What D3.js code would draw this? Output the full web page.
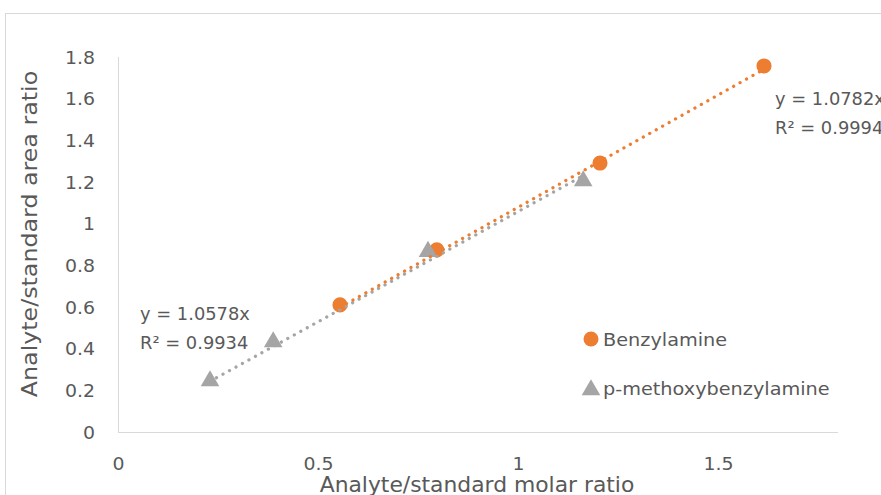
<!DOCTYPE html>
<html><head><meta charset="utf-8">
<script src="https://cdn.jsdelivr.net/npm/d3@7"></script>
<style>body{margin:0;background:#fff}svg{display:block}text{font-family:"DejaVu Sans",sans-serif;fill:#595959}</style>
</head><body>
<svg id="c" width="881" height="495"></svg>
<script>
const seriesNames = ["Benzylamine", "p-methoxybenzylamine"];
const benzX = [0.555, 0.797, 1.205, 1.615];
const benzY = [0.61, 0.874, 1.291, 1.757];
const methX = [0.23, 0.388, 0.775, 1.163];
const methY = [0.245, 0.432, 0.866, 1.205];
const slopes = [1.0782, 1.0578];
const r2 = ["0.9994", "0.9934"];
const xTicks = [0, 0.5, 1, 1.5];
const yTicks = [0, 0.2, 0.4, 0.6, 0.8, 1, 1.2, 1.4, 1.6, 1.8];
const xTitle = "Analyte/standard molar ratio";
const yTitle = "Analyte/standard area ratio";
const colors = ["#ED7D31", "#A5A5A5"];

const svg = d3.select("#c");
function stretch(sel, k){
  sel.each(function(){
    const w = this.getComputedTextLength();
    d3.select(this).attr("textLength", w*k).attr("lengthAdjust","spacingAndGlyphs");
  });
  return sel;
}
svg.append("rect").attr("x",5.5).attr("y",13.5).attr("width",900).attr("height",500)
  .attr("fill","none").attr("stroke","#d9d9d9");

const x = d3.scaleLinear().domain([0,1.8]).range([118,838]);
const y = d3.scaleLinear().domain([0,1.8]).range([432,57]);

svg.append("line").attr("x1",x(0)).attr("x2",x(1.8)).attr("y1",y(0)+0.5).attr("y2",y(0)+0.5).attr("stroke","#d9d9d9");
svg.append("line").attr("x1",x(0)+0.5).attr("x2",x(0)+0.5).attr("y1",y(1.8)).attr("y2",y(0)).attr("stroke","#d9d9d9");

const xa = d3.axisBottom(x).tickValues(xTicks).tickSize(0).tickPadding(0).tickFormat(d=>String(d));
const gx = svg.append("g").attr("transform",`translate(0,${y(0)})`).call(xa);
gx.select(".domain").remove();
gx.selectAll("text").attr("font-size",17.5).attr("y",38).attr("dy","0")
  .style("fill","#595959").attr("font-family","DejaVu Sans");
stretch(gx.selectAll("text"),1.08);

const ya = d3.axisLeft(y).tickValues(yTicks).tickSize(0).tickPadding(23).tickFormat(d=>String(d));
const gy = svg.append("g").attr("transform",`translate(${x(0)},0)`).call(ya);
gy.select(".domain").remove();
gy.selectAll("text").attr("font-size",17.5).attr("dy","0.36em")
  .style("fill","#595959").attr("font-family","DejaVu Sans");
stretch(gy.selectAll("text"),1.08);

stretch(svg.append("text").attr("x",477).attr("y",492).attr("text-anchor","middle").attr("font-size",20.5).text(xTitle),1.065);
stretch(svg.append("text").attr("transform","translate(37,234) rotate(-90)").attr("text-anchor","middle").attr("font-size",21).text(yTitle),1.13);

const data = [benzX.map((v,i)=>[v,benzY[i]]), methX.map((v,i)=>[v,methY[i]])];

const sym = [d3.symbolCircle, d3.symbolTriangle];
const sizes = [180, 150];
data.forEach((pts,s)=>{
  svg.append("g").selectAll("path").data(pts).join("path")
    .attr("d", d3.symbol().type(sym[s]).size(sizes[s]))
    .attr("transform", d=>`translate(${x(d[0])},${y(d[1])})`)
    .attr("fill", colors[s]);
});

[1,0].forEach(s=>{
  const xs = data[s].map(d=>d[0]);
  const x0 = d3.min(xs), x1 = d3.max(xs);
  svg.append("line")
    .attr("x1",x(x0)).attr("y1",y(slopes[s]*x0))
    .attr("x2",x(x1)).attr("y2",y(slopes[s]*x1))
    .attr("stroke",colors[s]).attr("stroke-width",3.2)
    .attr("stroke-linecap","round").attr("stroke-dasharray","0.1 7.3");
});

function eq(xp, yp, s){
  stretch(svg.append("text").attr("x",xp).attr("y",yp).attr("font-size",17.5).text(`y = ${slopes[s]}x`),1.02);
  stretch(svg.append("text").attr("x",xp).attr("y",yp+29).attr("font-size",17.5).text(`R² = ${r2[s]}`),1.02);
}
eq(775,105,0);
eq(140,320,1);

svg.append("circle").attr("cx",591).attr("cy",339).attr("r",7.5).attr("fill",colors[0]);
svg.append("path").attr("d",d3.symbol().type(d3.symbolTriangle).size(150)).attr("transform","translate(591,390)").attr("fill",colors[1]);
stretch(svg.append("text").attr("x",603).attr("y",346).attr("font-size",18).text(seriesNames[0]),1.07);
stretch(svg.append("text").attr("x",603).attr("y",395).attr("font-size",18).text(seriesNames[1]),1.07);
</script>
</body></html>
